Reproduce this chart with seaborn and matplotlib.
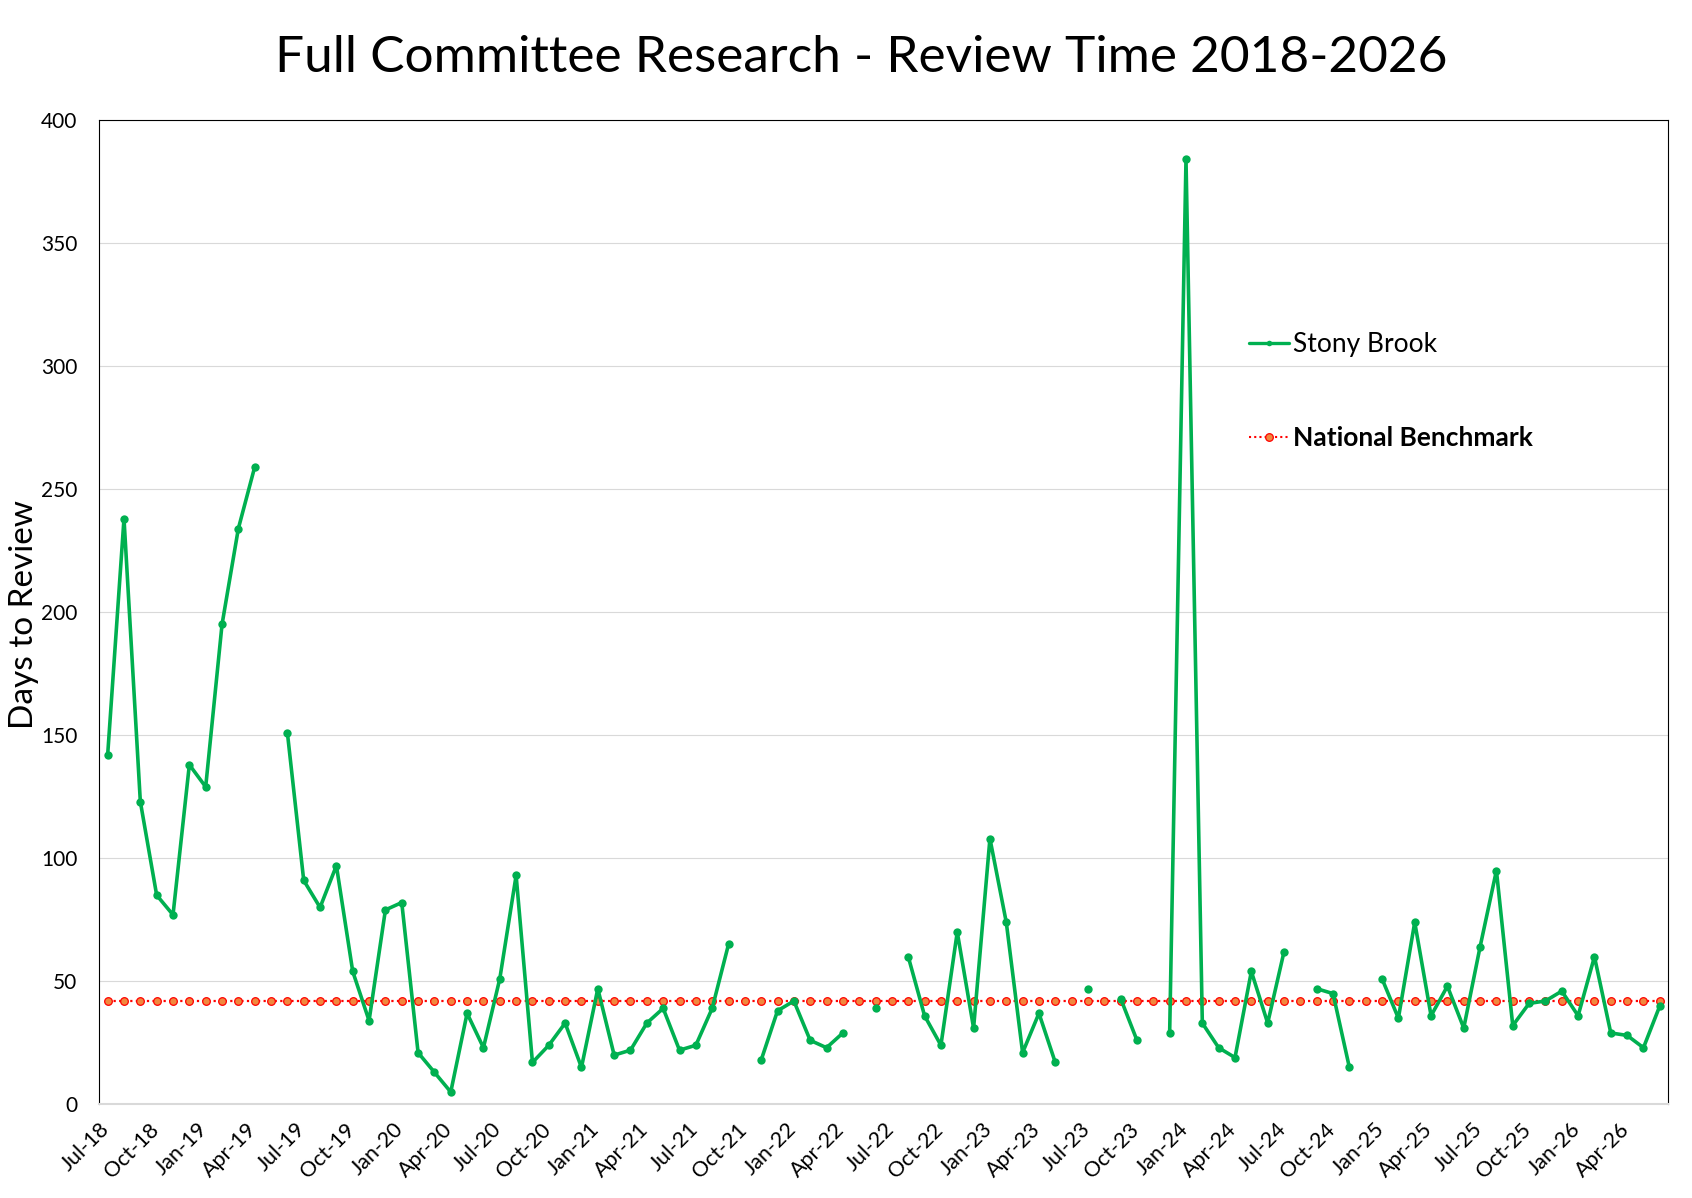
import numpy as np
import pandas as pd
import seaborn as sns
import matplotlib.pyplot as plt
from matplotlib.lines import Line2D
from matplotlib.transforms import ScaledTranslation

# monthly review times, Jul-18 .. Jun-26 (NaN = no data that month)
months = pd.date_range('2018-07-01', periods=96, freq='MS')
stony_brook = [
    142, 238, 123, 85, 77, 138, 129, 195, 234, 259, np.nan, 151,   # Jul-18 .. Jun-19
    91, 80, 97, 54, 34, 79, 82, 21, 13, 5, 37, 23,                 # Jul-19 .. Jun-20
    51, 93, 17, 24, 33, 15, 47, 20, 22, 33, 39, 22,                # Jul-20 .. Jun-21
    24, 39, 65, np.nan, 18, 38, 42, 26, 23, 29, np.nan, 39,        # Jul-21 .. Jun-22
    np.nan, 60, 36, 24, 70, 31, 108, 74, 21, 37, 17, np.nan,       # Jul-22 .. Jun-23
    47, np.nan, 43, 26, np.nan, 29, 384, 33, 23, 19, 54, 33,       # Jul-23 .. Jun-24
    62, np.nan, 47, 45, 15, np.nan, 51, 35, 74, 36, 48, 31,        # Jul-24 .. Jun-25
    64, 95, 32, 41, 42, 46, 36, 60, 29, 28, 23, 40,                # Jul-25 .. Jun-26
]
benchmark = [42] * 96

tick_labels = ['Jul-18', 'Oct-18', 'Jan-19', 'Apr-19', 'Jul-19', 'Oct-19', 'Jan-20', 'Apr-20',
               'Jul-20', 'Oct-20', 'Jan-21', 'Apr-21', 'Jul-21', 'Oct-21', 'Jan-22', 'Apr-22',
               'Jul-22', 'Oct-22', 'Jan-23', 'Apr-23', 'Jul-23', 'Oct-23', 'Jan-24', 'Apr-24',
               'Jul-24', 'Oct-24', 'Jan-25', 'Apr-25', 'Jul-25', 'Oct-25', 'Jan-26', 'Apr-26', '']

GREEN = '#00B050'
RED = '#FF0000'
ORANGE = '#F0883E'
GRAY = '#D9D9D9'

sns.set_style('white')
plt.rcParams['font.family'] = ['Lato', 'DejaVu Sans']
plt.rcParams['text.color'] = 'black'
plt.rcParams['xtick.labelcolor'] = 'black'
plt.rcParams['ytick.labelcolor'] = 'black'

df = pd.DataFrame({'idx': np.arange(len(months)), 'days': stony_brook, 'bench': benchmark})
# split into runs so gaps stay open
df['seg'] = df['days'].isna().cumsum()
sb = df.dropna(subset=['days'])

fig = plt.figure(figsize=(16.92, 11.98), dpi=100)
ax = fig.add_axes([0.0588, 0.0782, 0.9270, 0.8216])

sns.lineplot(data=df, x='idx', y='bench', ax=ax, color=RED, lw=1.6,
             linestyle=(0, (1, 1.5)), marker='o', markersize=5.5,
             markerfacecolor=ORANGE, markeredgecolor=RED, markeredgewidth=0.9, zorder=3)
sns.lineplot(data=sb, x='idx', y='days', units='seg', estimator=None, ax=ax,
             color=GREEN, lw=2.6, marker='o', markersize=6,
             markerfacecolor=GREEN, markeredgecolor=GREEN, markeredgewidth=0, zorder=4)

ax.set_xlim(-0.5, 95.5)
ax.set_ylim(0, 400)
ax.set_yticks(range(0, 401, 50))
ax.set_xticks(np.arange(-0.5, 96, 3))
ax.set_xticklabels(tick_labels, rotation=45, ha='right', va='center', rotation_mode='anchor')
ax.set_xlabel('')
ax.set_ylabel('')

ax.yaxis.grid(True, color=GRAY, lw=0.8)
ax.set_axisbelow(True)
ax.tick_params(axis='y', length=0, pad=16, labelsize=15)
ax.tick_params(axis='x', length=5, width=1.4, color=GRAY, pad=8, labelsize=15.5, direction='out')
# nudge rotated labels a little right / down, like the Excel layout
shift = ScaledTranslation(0.07, -0.04, fig.dpi_scale_trans)
for lbl in ax.get_xticklabels():
    lbl.set_transform(lbl.get_transform() + shift)
for side in ['left', 'top', 'right']:
    ax.spines[side].set_color('black')
    ax.spines[side].set_linewidth(0.8)
ax.spines['bottom'].set_color(GRAY)
ax.spines['bottom'].set_linewidth(1.5)
ax.spines['bottom'].set_zorder(5)

handles = [
    Line2D([], [], color=GREEN, lw=2.4, marker='o', markersize=4, markeredgewidth=0),
    Line2D([], [], color=RED, lw=1.5, linestyle=(0, (1, 1.5)), marker='o', markersize=5.5,
           markerfacecolor=ORANGE, markeredgecolor=RED, markeredgewidth=0.9),
]
leg = fig.legend(handles, ['Stony Brook', 'National Benchmark'], loc='center left',
                 bbox_to_anchor=(1236 / 1692, 1 - 391 / 1198), frameon=False, fontsize=19,
                 borderpad=0, handlelength=1.5, handletextpad=0.15, labelspacing=2.6)
leg.get_texts()[1].set_fontweight('bold')

fig.text(0.509, 1 - 58 / 1198, 'Full Committee Research - Review Time 2018-2026',
         fontsize=37, ha='center', va='center')
fig.text(24 / 1692, 0.487, 'Days to Review', rotation=90, fontsize=24, ha='center', va='center')

fig.savefig('out.png', dpi=100)
